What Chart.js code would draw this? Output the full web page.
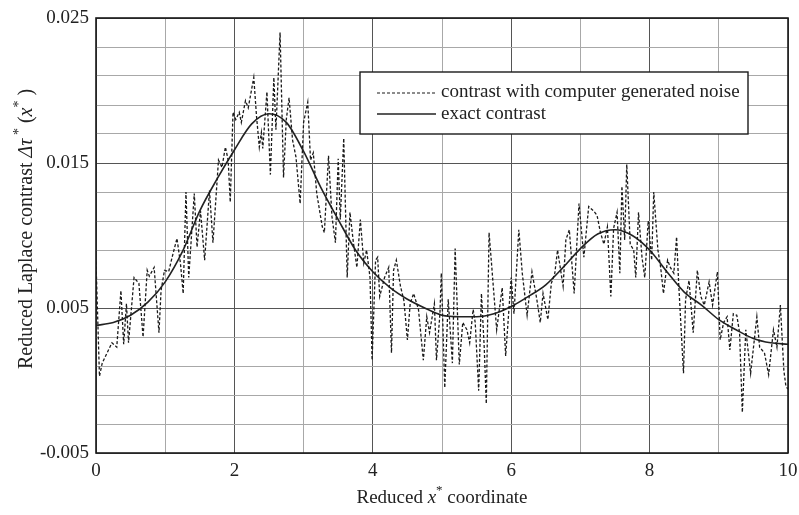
<!DOCTYPE html>
<html>
<head>
<meta charset="utf-8">
<script src="https://cdn.jsdelivr.net/npm/chart.js@4"></script>
<style>
html,body{margin:0;padding:0;background:#fff;}
#wrap{width:799px;height:515px;position:relative;}
</style>
</head>
<body>
<div id="wrap"><canvas id="c"></canvas></div>
<script>
// ---- data ----
const exactX = [0,0.25,0.5,0.75,1,1.25,1.5,1.75,2,2.25,2.5,2.75,3,3.25,3.5,3.75,4,4.25,4.5,4.75,5,5.25,5.5,5.75,6,6.25,6.5,6.75,7,7.25,7.5,7.75,8,8.25,8.5,8.75,9,9.25,9.5,9.75,10];
const exactY = [0.0038,0.0040,0.0045,0.0054,0.0068,0.0089,0.0117,0.0139,0.0159,0.0177,0.0184,0.0178,0.0158,0.0133,0.0111,0.0090,0.0075,0.0064,0.0056,0.0050,0.0045,0.0044,0.0044,0.0046,0.0051,0.0058,0.0066,0.0078,0.0091,0.0101,0.0104,0.0100,0.0090,0.0075,0.0061,0.0052,0.0042,0.0035,0.0029,0.0026,0.0025];

const noiseX = [0.00,0.05,0.09,0.16,0.23,0.30,0.36,0.40,0.44,0.47,0.55,0.62,0.68,0.74,0.77,0.84,0.91,0.94,0.99,1.05,1.10,1.17,1.22,1.26,1.30,1.34,1.42,1.46,1.51,1.57,1.64,1.69,1.77,1.82,1.87,1.91,1.94,1.98,2.02,2.07,2.10,2.16,2.20,2.28,2.32,2.36,2.39,2.41,2.47,2.52,2.57,2.60,2.66,2.71,2.75,2.79,2.84,2.89,2.95,3.00,3.06,3.10,3.14,3.19,3.27,3.30,3.36,3.41,3.46,3.50,3.53,3.58,3.63,3.67,3.72,3.77,3.82,3.87,3.91,3.96,3.99,4.04,4.07,4.10,4.17,4.23,4.27,4.30,4.34,4.40,4.45,4.50,4.54,4.59,4.66,4.73,4.78,4.82,4.89,4.92,4.97,4.99,5.04,5.09,5.15,5.19,5.25,5.30,5.36,5.40,5.45,5.48,5.53,5.57,5.61,5.64,5.68,5.72,5.79,5.87,5.92,5.97,6.00,6.04,6.11,6.16,6.23,6.30,6.37,6.42,6.46,6.53,6.58,6.63,6.67,6.75,6.79,6.84,6.91,6.98,7.05,7.12,7.19,7.24,7.29,7.34,7.39,7.44,7.48,7.53,7.57,7.60,7.64,7.67,7.72,7.77,7.80,7.84,7.89,7.93,7.98,8.03,8.06,8.12,8.16,8.20,8.26,8.30,8.35,8.39,8.42,8.49,8.52,8.57,8.63,8.69,8.74,8.79,8.86,8.91,8.98,9.02,9.07,9.12,9.16,9.21,9.26,9.30,9.34,9.39,9.46,9.55,9.59,9.66,9.72,9.79,9.84,9.89,9.94,9.97,10.00];
const noiseY = [0.0082,0.0003,0.0012,0.0019,0.0026,0.0023,0.0062,0.0025,0.0053,0.0026,0.0071,0.0067,0.0030,0.0076,0.0072,0.0078,0.0033,0.0062,0.0076,0.0075,0.0085,0.0098,0.0081,0.0060,0.0130,0.0071,0.0129,0.0092,0.0117,0.0083,0.0131,0.0095,0.0152,0.0147,0.0161,0.0152,0.0123,0.0185,0.0180,0.0185,0.0178,0.0193,0.0188,0.0209,0.0182,0.0161,0.0171,0.0160,0.0199,0.0142,0.0209,0.0173,0.0240,0.0140,0.0180,0.0195,0.0166,0.0154,0.0122,0.0178,0.0192,0.0152,0.0157,0.0129,0.0106,0.0102,0.0155,0.0113,0.0095,0.0153,0.0111,0.0167,0.0071,0.0116,0.0095,0.0078,0.0111,0.0081,0.0090,0.0071,0.0014,0.0083,0.0085,0.0058,0.0071,0.0078,0.0019,0.0076,0.0083,0.0065,0.0055,0.0028,0.0053,0.0060,0.0049,0.0014,0.0044,0.0033,0.0053,0.0014,0.0046,0.0074,-0.0005,0.0056,0.0012,0.0091,0.0011,0.0040,0.0035,0.0026,0.0049,0.0040,-0.0007,0.0060,0.0023,-0.0016,0.0102,0.0078,0.0035,0.0064,0.0017,0.0051,0.0071,0.0046,0.0104,0.0074,0.0045,0.0075,0.0056,0.0040,0.0060,0.0042,0.0067,0.0074,0.0090,0.0065,0.0097,0.0104,0.0060,0.0122,0.0085,0.0120,0.0117,0.0114,0.0102,0.0094,0.0106,0.0058,0.0105,0.0116,0.0074,0.0134,0.0097,0.0149,0.0094,0.0090,0.0071,0.0116,0.0085,0.0071,0.0110,0.0083,0.0130,0.0090,0.0078,0.0060,0.0083,0.0078,0.0074,0.0099,0.0067,0.0005,0.0056,0.0069,0.0033,0.0076,0.0058,0.0052,0.0068,0.0052,0.0075,0.0028,0.0040,0.0044,0.0021,0.0046,0.0045,0.0033,-0.0022,0.0035,0.0005,0.0044,0.0023,0.0019,0.0004,0.0035,0.0023,0.0052,0.0007,-0.0004,-0.0006];

const xTicks = [0,1,2,3,4,5,6,7,8,9,10];
const xTickLabels = ['0','','2','','4','','6','','8','','10'];
const yTicks = [-0.005,-0.003,-0.001,0.001,0.003,0.005,0.007,0.009,0.011,0.013,0.015,0.017,0.019,0.021,0.023,0.025];
const yTickLabels = ['-0.005','','','','','0.005','','','','','0.015','','','','','0.025'];
const legendLabels = ['contrast with computer generated noise','exact contrast'];

const SERIF = '"Liberation Serif","DejaVu Serif",serif';
const INK = '#222';

function pts(xs, ys){ return xs.map((x,i)=>({x:x, y:ys[i]})); }

function drawRich(ctx, segs, size){
  const fontFor = s => (s.i ? 'italic ' : '') + (s.sup ? Math.round(size*0.7) : size) + 'px ' + SERIF;
  let total = 0;
  const ws = segs.map(s => { ctx.font = fontFor(s); const w = ctx.measureText(s.t).width; total += w; return w; });
  let x = -total/2;
  segs.forEach((s,k) => {
    ctx.font = fontFor(s);
    ctx.fillText(s.t, x, s.sup ? -size*0.45 : 0);
    x += ws[k];
  });
}

const decor = {
  id:'decor',
  afterDatasetsDraw(chart){
    const ctx = chart.ctx, a = chart.chartArea;
    ctx.save();
    ctx.strokeStyle = '#1a1a1a'; ctx.lineWidth = 1.6;
    ctx.strokeRect(a.left, a.top, a.right-a.left, a.bottom-a.top);
    // legend box
    const bx = 360, by = 72, bw = 388, bh = 62;
    ctx.fillStyle = '#fff';
    ctx.fillRect(bx, by, bw, bh);
    ctx.strokeStyle = '#1a1a1a'; ctx.lineWidth = 1.4;
    ctx.strokeRect(bx, by, bw, bh);
    ctx.strokeStyle = '#1a1a1a'; ctx.lineWidth = 1.2;
    ctx.setLineDash([3,2]);
    ctx.beginPath(); ctx.moveTo(377, 93); ctx.lineTo(436, 93); ctx.stroke();
    ctx.setLineDash([]);
    ctx.lineWidth = 1.5; ctx.strokeStyle = '#222';
    ctx.beginPath(); ctx.moveTo(377, 114); ctx.lineTo(436, 114); ctx.stroke();
    ctx.fillStyle = INK; ctx.font = '19px ' + SERIF; ctx.textBaseline = 'middle'; ctx.textAlign = 'left';
    ctx.fillText(legendLabels[0], 441, 92);
    ctx.fillText(legendLabels[1], 441, 114);
    // axis titles
    ctx.textAlign = 'left'; ctx.textBaseline = 'alphabetic'; ctx.fillStyle = INK;
    ctx.save();
    ctx.translate(442, 503);
    drawRich(ctx, [{t:'Reduced '},{t:'x',i:true},{t:'*',sup:true},{t:' coordinate'}], 19);
    ctx.restore();
    ctx.save();
    ctx.translate(32, 229);
    ctx.rotate(-Math.PI/2);
    drawRich(ctx, [{t:'Reduced Laplace contrast '},{t:'Δτ',i:true},{t:' *',sup:true},{t:' ('},{t:'x',i:true},{t:'*',sup:true},{t:' )'}], 20);
    ctx.restore();
    ctx.restore();
  }
};

new Chart(document.getElementById('c'), {
  type:'line',
  data:{
    datasets:[
      {label:legendLabels[0], data:pts(noiseX, noiseY), borderColor:'#1a1a1a', borderWidth:1.3, borderDash:[3,2], pointRadius:0, tension:0, fill:false},
      {label:legendLabels[1], data:pts(exactX, exactY), borderColor:'#222', borderWidth:1.6, pointRadius:0, tension:0.4, cubicInterpolationMode:'monotone', fill:false}
    ]
  },
  options:{
    responsive:true, maintainAspectRatio:false, animation:false,
    layout:{padding:{top:18, right:11, left:0, bottom:0}},
    plugins:{legend:{display:false}, tooltip:{enabled:false}},
    scales:{
      x:{
        type:'linear', min:0, max:10,
        afterBuildTicks(s){ s.ticks = xTicks.map(v=>({value:v})); },
        afterFit(s){ s.height = 62; s.paddingRight = 0; s.paddingLeft = 0; },
        ticks:{ autoSkip:false, maxRotation:0, padding:7, color:INK, font:{family:SERIF, size:19},
          callback(v){ const k = xTicks.indexOf(v); return k>=0 ? xTickLabels[k] : ''; } },
        grid:{ drawTicks:false, tickLength:0, lineWidth:1,
          color(c){ const v = c.tick ? c.tick.value : 0; return (Math.round(v)%2===0) ? '#555' : '#a8a8a8'; } },
        border:{display:false}
      },
      y:{
        type:'linear', min:-0.005, max:0.025,
        afterBuildTicks(s){ s.ticks = yTicks.map(v=>({value:v})); },
        afterFit(s){ s.width = 96; s.paddingTop = 0; s.paddingBottom = 0; },
        ticks:{ autoSkip:false, padding:7, color:INK, font:{family:SERIF, size:19},
          callback(v){ let k = -1; yTicks.forEach((t,i)=>{ if (Math.abs(t-v)<1e-9) k=i; }); return k>=0 ? yTickLabels[k] : ''; } },
        grid:{ drawTicks:false, tickLength:0, lineWidth:1,
          color(c){ const v = c.tick ? c.tick.value : 0; const k = yTicks.findIndex(t=>Math.abs(t-v)<1e-9); return (k>=0 && yTickLabels[k]!=='') ? '#555' : '#a8a8a8'; } },
        border:{display:false}
      }
    }
  },
  plugins:[decor]
});
</script>
</body>
</html>
